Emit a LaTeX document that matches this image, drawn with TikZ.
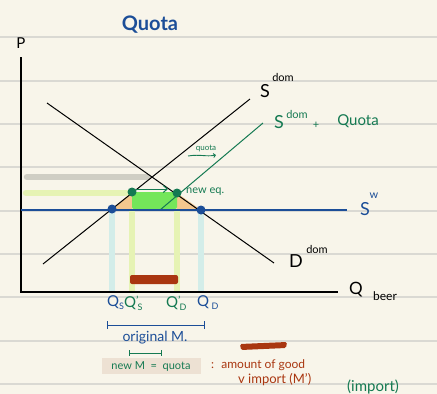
\documentclass[tikz,border=0pt]{standalone}
\usepackage{fontspec}
\setmainfont{Lato}
\usetikzlibrary{arrows.meta}
\definecolor{paper}{HTML}{F8F5EA}
\definecolor{rulec}{HTML}{DAD9D3}
\definecolor{inkblue}{HTML}{1C4E98}
\definecolor{inkgreen}{HTML}{157A52}
\definecolor{inkbrown}{HTML}{A93610}
\definecolor{bandgray}{HTML}{CFCEC4}
\definecolor{bandyel}{HTML}{E6F3B4}
\definecolor{bandblue}{HTML}{D3EDE9}
\definecolor{brightgreen}{HTML}{74E65A}
\definecolor{tri}{HTML}{F4C78E}
\definecolor{boxbg}{HTML}{EDE1D3}
\tikzset{
  lbl/.style={inner sep=0pt, anchor=center},
  band/.style={line width=6.5pt, line cap=round},
  curve/.style={line width=1pt},
  bdot/.style={circle, fill=inkblue, inner sep=0pt, minimum size=9pt},
  gdot/.style={circle, fill=inkgreen, inner sep=0pt, minimum size=9pt},
}
\newcommand{\fs}[1]{\fontsize{#1}{#1}\selectfont}
\newcommand{\qprime}[1]{Q\rlap{\raisebox{3pt}{\fs{11}’}}\raisebox{-3pt}{\fs{9}\,#1}}
\begin{document}
\begin{tikzpicture}[x=1pt,y=-1pt]
\fill[paper] (0,0) rectangle (437,394);
\useasboundingbox (0,0) rectangle (437,394);
\foreach \y in {37,81,124,167,211,254,297,341,384}
  \draw[rulec, line width=1.3pt] (0,\y) -- (437,\y);

% key coordinates
\coordinate (O) at (21,292);
\coordinate (Ptop) at (21,57);
\coordinate (Qend) at (338,292);
\coordinate (D1) at (47,103);
\coordinate (D2) at (274,263);
\coordinate (S1) at (43,264);
\coordinate (S2) at (250,99);
\coordinate (G1) at (160,210);
\coordinate (G2) at (263,123);
\coordinate (W1) at (21,210);
\coordinate (W2) at (347,210);
\coordinate (Qs) at (112,209);
\coordinate (Qsp) at (132,192);
\coordinate (Qdp) at (177,193);
\coordinate (Qd) at (201,210);

% bands
\draw[band, bandgray] (27,177) -- (148,177);
\draw[band, bandyel] (26,193) -- (132,193);
\draw[band, bandblue, line cap=butt] (112,212) -- (112,292);
\draw[band, bandyel, line cap=butt] (132,195) -- (132,292);
\draw[band, bandyel, line cap=butt] (177,195) -- (177,292);
\draw[band, bandblue, line cap=butt] (201,212) -- (201,292);

% areas
\fill[tri] (Qs) -- (132,192) -- (132,209) -- cycle;
\fill[tri] (177,193) -- (Qd) -- (177,209) -- cycle;
\fill[brightgreen, rounded corners=2pt] (132,192) rectangle (177,209);

% brown bar
\fill[inkbrown, rounded corners=2pt] (130,275) rectangle (178,284);

% axes
\draw[line width=1.1pt] (Ptop) -- (O) -- (Qend);

% curves
\draw[curve] (D1) -- (D2);
\draw[curve] (S1) -- (S2);
\draw[curve, inkgreen] (G1) -- (G2);
\draw[curve, inkblue, line width=1.2pt] (W1) -- (W2);

% quota arrow on rectangle
\draw[inkgreen, line width=1pt, -{Straight Barb[length=4pt,width=7pt]}] (136,189) -- (168,189);

% dots
\node[bdot] (dQs) at (Qs) {};
\node[bdot] (dQd) at (Qd) {};
\node[gdot] (dQsp) at (Qsp) {};
\node[gdot] (dQdp) at (Qdp) {};

% labels
\node[lbl, inkblue] (title) at (150,25) {\fs{20}\bfseries Quota};
\node[lbl] (P) at (21,43) {\fs{15}P};
\node[lbl] (Sdom) at (265,91) {\fs{18}S};
\node[lbl] (Sdomsup) at (283,77) {\fs{11}dom};
\node[lbl, inkgreen] (SQ) at (279,122) {\fs{18}S};
\node[lbl, inkgreen] (SQsup) at (297,114) {\fs{11}dom};
\node[lbl, inkgreen] (SQplus) at (316,125) {\fs{11}+};
\node[lbl, inkgreen] (SQq) at (358,121) {\fs{15}Quota};
\node[lbl, inkgreen] (qlab) at (206,148) {\fs{8}quota};
\draw[inkgreen, line width=0.9pt, -{Straight Barb[length=2pt,width=4pt]}] (188,156) .. controls (200,154) and (206,157) .. (216,155);
\node[lbl, inkgreen, anchor=west] (neweq) at (186,192) {\fs{11}new eq.};
\node[lbl, inkblue] (Sw) at (365,209) {\fs{18}S};
\node[lbl, inkblue] (Swsup) at (374,196) {\fs{11}w};
\node[lbl] (D) at (296,261) {\fs{18}D};
\node[lbl] (Dsup) at (317,249) {\fs{11}dom};
\node[lbl] (Qb) at (356,290) {\fs{17}Q};
\node[lbl] (Qbsub) at (385,296) {\fs{12}beer};

\node[lbl, inkblue, anchor=west] (lQs) at (107,303) {\fs{15}Q\raisebox{-3pt}{\fs{9}S}};
\node[lbl, inkgreen, anchor=west] (lQsp) at (124,303) {\fs{15}\qprime{S}};
\node[lbl, inkgreen, anchor=west] (lQdp) at (166,303) {\fs{15}\qprime{D}};
\node[lbl, inkblue, anchor=west] (lQd) at (197,303) {\fs{15}Q\,\raisebox{-3pt}{\fs{9}D}};

% original M bracket
\coordinate (bL) at (107,325);
\coordinate (bR) at (204,325);
\draw[inkblue, line width=1pt] (bL) -- (bR);
\draw[inkblue, line width=1pt] (107,321) -- (107,329);
\draw[inkblue, line width=1pt] (204,321) -- (204,329);
\node[lbl, inkblue] (orig) at (155,338) {\fs{14}original M.};

% new M bracket
\draw[inkgreen, line width=1pt] (129,353) -- (161,353);
\draw[inkgreen, line width=1pt] (129,350) -- (129,356);
\draw[inkgreen, line width=1pt] (161,350) -- (161,356);
\fill[boxbg] (102,358) rectangle (201,374);
\node[lbl, inkgreen] (newM) at (151,366) {\fs{11}new M \ = \ quota};

% brown notes
\fill[inkbrown, rounded corners=1.5pt] (240,344) -- (287,342) -- (286,348) -- (241,350) -- cycle;
\node[lbl, inkbrown, anchor=west] (amt) at (211,365) {\fs{12}: \ amount of good};
\node[lbl, inkbrown, anchor=west] (imp) at (238,380) {\fs{13}v import (M')};
\node[lbl, inkgreen, anchor=west] (impg) at (347,387) {\fs{15}(import)};
\end{tikzpicture}
\end{document}
